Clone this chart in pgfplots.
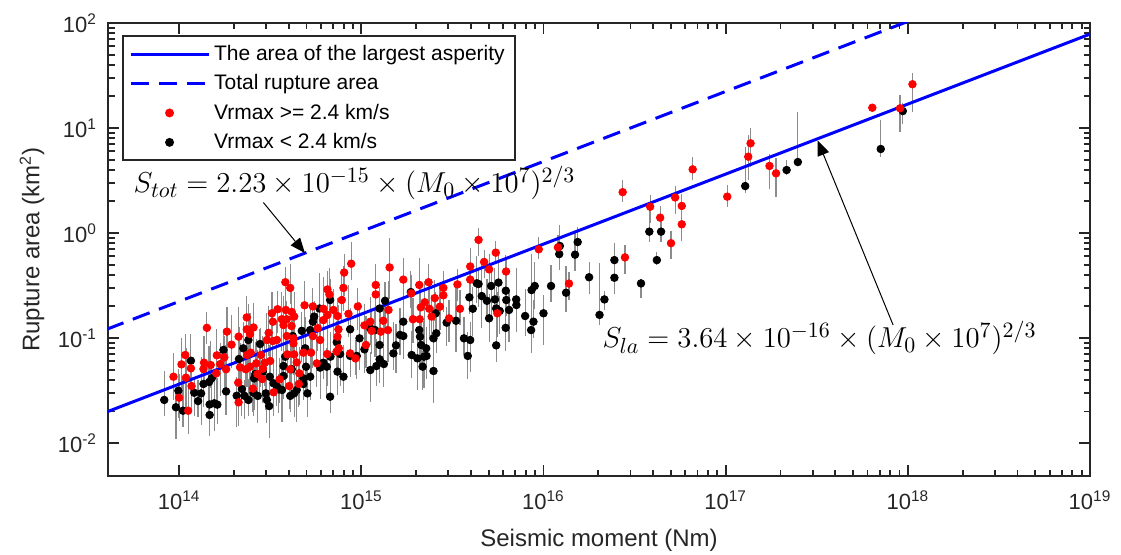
\documentclass[border=0pt]{standalone}
\usepackage{fontspec}
\setmainfont{Liberation Sans}
\usepackage{pgfplots}
\pgfplotsset{compat=1.18}
\usepackage{pgfplotstable}
\usetikzlibrary{arrows.meta}

\definecolor{axgray}{rgb}{0.15,0.15,0.15}
\definecolor{barg}{rgb}{0.55,0.55,0.55}

% Vrmax >= 2.4 km/s : M0 (Nm), area (km2), relative error up / down
\pgfplotstableread{
x y ep em
4.4e15 0.86 0.3 0.3
8.8e14 0.51 0.6 0.3
8.05e14 0.42 0.5 0.4
1.43e15 0.47 0.9 0.5
3.83e14 0.34 0.4 0.3
4.07e14 0.30 0.7 0.3
1.70e15 0.36 0.6 0.4
2.08e15 0.32 0.8 0.5
2.34e15 0.34 0.5 0.4
2.82e15 0.30 0.4 0.3
3.96e15 0.48 0.5 0.3
3.96e15 0.36 0.4 0.3
4.72e15 0.53 0.3 0.3
5.47e15 0.65 0.3 0.2
5.03e15 0.45 0.4 0.3
6.23e15 0.43 0.3 0.3
9.42e15 0.70 0.3 0.2
1.20e16 0.73 0.3 0.2
1.38e16 0.33 0.3 0.3
7.98e14 0.30 0.6 0.4
7.81e14 0.23 0.7 0.4
6.52e14 0.29 0.5 0.3
6.68e14 0.26 0.8 0.5
1.20e15 0.32 0.6 0.4
1.20e15 0.26 0.7 0.5
9.57e14 0.20 0.5 0.4
8.50e14 0.17 0.9 0.4
7.03e14 0.185 0.6 0.5
6.19e14 0.19 1.0 0.4
5.42e14 0.20 0.5 0.3
4.88e14 0.205 0.7 0.4
4.15e14 0.177 0.6 0.5
3.85e14 0.185 1.1 0.4
3.47e14 0.188 0.5 0.4
3.23e14 0.172 0.6 0.5
4.28e14 0.16 0.7 0.4
3.66e14 0.151 0.8 0.5
3.90e14 0.151 0.5 0.4
3.74e14 0.133 0.9 0.4
4.14e14 0.130 0.6 0.5
3.27e14 0.143 0.7 0.4
3.03e14 0.0957 0.8 0.5
1.42e14 0.125 0.4 0.3
1.83e14 0.115 0.7 0.4
2.35e14 0.157 0.6 0.4
2.12e14 0.103 0.9 0.5
2.35e14 0.121 0.5 0.4
2.56e14 0.126 0.7 0.4
2.45e14 0.109 0.6 0.5
3.10e14 0.112 0.8 0.4
3.27e14 0.0936 0.7 0.4
3.44e14 0.0957 0.5 0.5
3.90e14 0.1045 0.9 0.4
4.24e14 0.0993 0.6 0.4
4.24e14 0.0889 0.7 0.5
6.19e14 0.148 0.6 0.4
6.52e14 0.166 0.8 0.4
7.40e14 0.162 0.5 0.4
7.49e14 0.121 0.7 0.5
5.77e14 0.124 0.6 0.4
5.42e14 0.1045 0.8 0.5
5.94e14 0.0957 0.6 0.4
7.40e14 0.103 0.5 0.4
7.52e14 0.0798 0.7 0.4
8.68e14 0.0714 0.6 0.4
9.29e14 0.064 0.5 0.3
1.04e15 0.132 0.6 0.4
1.12e15 0.143 0.7 0.4
1.14e15 0.117 0.5 0.4
1.28e15 0.115 0.8 0.5
1.32e15 0.146 0.6 0.4
1.41e15 0.185 0.9 0.4
1.40e15 0.119 0.6 0.5
1.88e15 0.266 0.5 0.4
1.92e15 0.151 0.6 0.4
2.09e15 0.151 0.7 0.4
2.12e15 0.196 0.5 0.4
2.23e15 0.219 0.6 0.4
2.36e15 0.19 0.8 0.5
2.53e15 0.24 0.5 0.4
2.70e15 0.199 0.6 0.4
2.82e15 0.255 0.7 0.3
2.43e15 0.16 0.6 0.4
3.03e15 0.154 0.5 0.4
3.37e15 0.324 0.4 0.3
3.48e15 0.19 0.5 0.3
5.58e15 0.172 0.6 0.4
1.06e15 0.0858 0.9 0.4
7.31e14 0.0741 0.7 0.4
6.49e14 0.0704 0.6 0.5
5.70e14 0.0574 0.8 0.4
5.30e14 0.0725 0.6 0.4
4.81e14 0.0725 0.7 0.5
4.28e14 0.0698 0.9 0.4
3.93e14 0.0698 0.6 0.4
4.42e14 0.0586 0.7 0.4
4.57e14 0.0461 0.8 0.5
4.02e14 0.0349 0.6 0.4
4.54e14 0.0365 0.7 0.4
4.07e14 0.0504 0.9 0.5
3.56e14 0.0404 0.6 0.4
3.30e14 0.0304 0.7 0.4
2.81e14 0.0689 0.8 0.5
3.16e14 0.0604 0.6 0.4
2.95e14 0.0582 0.7 0.4
2.47e14 0.0725 0.9 0.4
2.36e14 0.0689 0.6 0.5
2.65e14 0.0574 0.7 0.4
2.45e14 0.0533 0.8 0.5
2.32e14 0.0504 0.6 0.4
2.16e14 0.0526 0.7 0.4
2.11e14 0.0376 0.9 0.5
2.12e14 0.0244 0.7 0.4
2.54e14 0.0330 0.6 0.4
1.61e14 0.0684 0.8 0.4
1.77e14 0.0655 0.6 0.5
1.94e14 0.0865 0.9 0.4
1.81e14 0.0504 0.7 0.4
1.68e14 0.0565 0.6 0.5
1.37e14 0.0582 0.8 0.4
1.49e14 0.0553 0.7 0.4
1.60e14 0.0461 0.6 0.5
1.36e14 0.0507 0.9 0.4
1.16e14 0.0514 0.7 0.4
1.08e14 0.0689 0.6 0.5
1.03e14 0.0561 0.8 0.4
9.31e13 0.0428 0.7 0.4
1.09e14 0.0419 0.9 0.5
1.17e14 0.0349 0.6 0.4
1.00e14 0.0270 0.7 0.4
1.12e14 0.0203 0.8 0.4
2.86e14 0.0407 0.6 0.4
2.69e14 0.0454 0.7 0.5
2.88e14 0.0511 0.6 0.4
2.72e16 2.45 0.3 0.2
2.80e16 0.586 0.3 0.3
3.85e16 1.78 0.3 0.3
4.37e16 1.40 0.3 0.3
5.28e16 2.18 0.3 0.3
5.74e16 1.81 0.3 0.3
5.74e16 1.21 0.4 0.3
5.01e16 0.80 0.3 0.3
6.59e16 4.04 0.3 0.2
1.02e17 2.22 0.3 0.2
1.37e17 7.15 0.4 0.4
1.33e17 5.33 0.6 0.4
1.74e17 4.35 0.3 0.4
1.89e17 3.70 0.4 0.4
6.38e17 15.6 0.05 0.05
9.06e17 15.4 0.35 0.4
1.06e18 26.1 0.27 0.45
}\redpts

% Vrmax < 2.4 km/s
\pgfplotstableread{
x y ep em
8.28e13 0.0257 0.9 0.3
9.6e13 0.0219 0.5 0.5
1.05e14 0.0203 1.0 0.3
9.9e13 0.0315 0.6 0.45
1.16e14 0.0608 0.8 0.35
1.21e14 0.0301 0.4 0.4
1.32e14 0.0297 1.2 0.5
1.27e14 0.0251 0.6 0.3
1.36e14 0.0365 0.7 0.4
1.47e14 0.0233 0.5 0.5
1.47e14 0.0185 1.0 0.3
1.56e14 0.0239 0.6 0.45
1.62e14 0.0232 0.8 0.35
1.51e14 0.0413 0.4 0.4
1.46e14 0.0381 1.2 0.5
1.75e14 0.0769 0.6 0.3
1.81e14 0.0310 0.7 0.4
2.07e14 0.0282 0.5 0.5
2.13e14 0.0631 1.0 0.3
2.21e14 0.0327 0.6 0.45
2.25e14 0.0798 0.8 0.35
2.28e14 0.0282 0.4 0.4
2.40e14 0.0957 1.2 0.5
2.40e14 0.0257 0.6 0.3
2.56e14 0.0301 0.7 0.4
2.58e14 0.0413 0.5 0.5
2.62e14 0.0454 1.0 0.3
2.70e14 0.0281 0.6 0.45
2.76e14 0.0428 0.8 0.35
2.78e14 0.0877 0.4 0.4
2.88e14 0.0478 1.2 0.5
2.99e14 0.0297 0.6 0.3
3.03e14 0.0257 0.7 0.4
3.12e14 0.0225 0.5 0.5
3.14e14 0.0428 1.0 0.3
3.30e14 0.0370 0.6 0.45
3.44e14 0.0349 0.8 0.35
3.52e14 0.0324 0.4 0.4
3.67e14 0.0320 1.2 0.5
3.74e14 0.0541 0.6 0.3
3.74e14 0.0435 0.7 0.4
3.83e14 0.0664 0.5 0.5
4.07e14 0.0281 1.0 0.3
4.15e14 0.0504 0.6 0.45
4.20e14 0.1045 0.8 0.35
4.28e14 0.0297 0.4 0.4
4.42e14 0.0320 1.2 0.5
4.81e14 0.0365 0.6 0.3
5.06e14 0.0297 0.7 0.4
4.71e14 0.117 0.5 0.5
4.92e14 0.0798 1.0 0.3
5.24e14 0.119 0.6 0.45
5.42e14 0.143 0.8 0.35
5.51e14 0.160 0.4 0.4
5.89e14 0.191 1.2 0.5
6.74e14 0.230 0.6 0.3
6.77e14 0.0664 0.7 0.4
6.46e14 0.0533 0.5 0.5
6.19e14 0.0582 1.0 0.3
4.97e14 0.0533 0.6 0.45
4.81e14 0.0413 0.8 0.35
5.24e14 0.0428 0.4 0.4
5.94e14 0.0522 1.2 0.5
7.33e14 0.0910 0.6 0.3
7.40e14 0.0478 0.7 0.4
7.65e14 0.0704 0.5 0.5
7.98e14 0.0428 1.0 0.3
8.68e14 0.121 0.6 0.45
8.68e14 0.0675 0.8 0.35
9.44e14 0.0675 0.4 0.4
9.77e14 0.0993 1.2 0.5
6.74e14 0.0276 0.6 0.3
1.04e15 0.078 0.7 0.4
1.12e15 0.0495 0.5 0.5
1.12e15 0.1236 1.0 0.3
1.19e15 0.119 0.6 0.45
1.21e15 0.0541 0.8 0.35
1.26e15 0.0627 0.4 0.4
1.26e15 0.0858 1.2 0.5
1.26e15 0.191 0.6 0.3
1.33e15 0.0565 0.7 0.4
1.35e15 0.226 0.5 0.5
1.50e15 0.0714 1.0 0.3
1.55e15 0.0851 0.6 0.45
1.63e15 0.107 0.8 0.35
1.70e15 0.1045 0.4 0.4
1.70e15 0.143 1.2 0.5
1.87e15 0.274 0.6 0.3
1.89e15 0.0689 0.7 0.4
2.03e15 0.064 0.5 0.5
2.08e15 0.119 1.0 0.3
2.10e15 0.103 0.6 0.45
2.13e15 0.0858 0.8 0.35
2.17e15 0.0533 0.4 0.4
2.21e15 0.0664 1.2 0.5
2.27e15 0.0798 0.6 0.3
2.28e15 0.0675 0.7 0.4
2.49e15 0.0485 0.5 0.5
2.49e15 0.0993 1.0 0.3
2.56e15 0.172 0.6 0.45
2.58e15 0.111 0.8 0.35
2.94e15 0.140 0.4 0.4
3.31e15 0.146 1.2 0.5
3.66e15 0.0993 0.6 0.3
3.84e15 0.0675 0.7 0.4
3.96e15 0.0957 0.5 0.5
3.92e15 0.244 1.0 0.3
4.09e15 0.190 0.6 0.45
4.30e15 0.332 0.8 0.35
4.40e15 0.327 0.4 0.4
4.58e15 0.251 1.2 0.5
4.89e15 0.226 0.6 0.3
5.03e15 0.154 0.7 0.4
5.16e15 0.313 0.5 0.5
5.41e15 0.233 1.0 0.3
5.50e15 0.191 0.6 0.45
5.66e15 0.337 0.8 0.35
5.75e15 0.181 0.4 0.4
6.21e15 0.282 1.2 0.5
6.25e15 0.230 0.6 0.3
6.20e15 0.125 0.7 0.4
6.47e15 0.185 0.5 0.5
7.08e15 0.233 1.0 0.3
7.10e15 0.206 0.6 0.45
7.93e15 0.162 0.8 0.35
8.55e15 0.119 0.4 0.4
8.60e15 0.286 1.2 0.5
8.81e15 0.143 0.6 0.3
8.95e15 0.313 0.7 0.4
1.00e16 0.172 0.5 0.5
1.10e16 0.313 0.6 0.3
1.23e16 0.752 0.6 0.4
1.22e16 0.630 0.5 0.3
1.33e16 0.270 0.8 0.35
1.49e16 0.622 0.6 0.3
1.54e16 0.820 0.4 0.3
1.78e16 0.379 0.4 0.3
5.50e15 0.0851 0.6 0.3
2.03e16 0.166 2.1 0.2
2.16e16 0.233 0.2 0.2
2.45e16 0.552 0.46 0.44
2.45e16 0.375 0.3 0.3
3.43e16 0.331 0.1 0.28
3.81e16 1.03 0.73 0.2
4.42e16 1.03 0.3 0.2
4.19e16 0.552 0.2 0.1
1.28e17 2.80 1.37 0.15
2.16e17 3.98 0.25 0.1
2.49e17 4.74 2.0 0.05
7.10e17 6.31 0.9 0.16
9.38e17 14.5 0.2 0.25
}\blackpts

\begin{document}
\begin{tikzpicture}
\useasboundingbox (-54pt,-39pt) rectangle (506.5pt,238pt);
\begin{axis}[
  at={(0pt,0pt)}, anchor=south west,
  scale only axis, width=491pt, height=226.5pt,
  xmode=log, ymode=log,
  xmin=4.07e13, xmax=1e19, ymin=4.85e-3, ymax=100,
  xtick={1e14,1e15,1e16,1e17,1e18,1e19},
  ytick={1e-2,1e-1,1,10,100},
  axis line style={draw=axgray, line width=1.2pt},
  every tick/.append style={draw=axgray, line width=0.9pt},
  major tick length=5.75pt, minor tick length=3.25pt,
  tick align=inside,
  /pgf/number format/assume math mode=true,
  log number format basis/.code 2 args={#1\textsuperscript{\pgfmathprintnumber{#2}}},
  tick label style={font=\fontsize{11}{13}\selectfont, text=axgray},
  xticklabel style={yshift=-4pt},
  yticklabel style={xshift=-2pt},
  xlabel={Seismic moment (Nm)},
  ylabel={Rupture area (km\textsuperscript{2})},
  label style={font=\fontsize{12}{14}\selectfont, text=axgray},
  xlabel style={at={(axis description cs:0.5,-0.141)}, anchor=center},
  ylabel style={at={(axis description cs:-0.0774,0.5)}, anchor=center},
  legend style={at={(0.0143,0.9735)}, anchor=north west, draw=axgray,
    line width=1pt, fill=white, font=\fontsize{10.5}{12.5}\selectfont,
    inner xsep=3pt, inner ysep=2.5pt, row sep=1.6pt},
  legend cell align=left,
  legend image code/.code={\draw[mark repeat=2,mark phase=2,#1]
    plot coordinates {(0pt,0pt) (19.5pt,0pt) (39pt,0pt)};},
]
% error bars first, under every dot (no marks in these two)
\addplot[draw=none, mark=none, forget plot,
  error bars/.cd, y dir=both, y explicit relative, error mark=none,
  error bar style={draw=barg, line width=0.6pt}]
  table[x=x, y=y, y error plus=ep, y error minus=em] {\blackpts};
\addplot[draw=none, mark=none, forget plot,
  error bars/.cd, y dir=both, y explicit relative, error mark=none,
  error bar style={draw=barg, line width=0.6pt}]
  table[x=x, y=y, y error plus=ep, y error minus=em] {\redpts};
\addplot[black, only marks, mark=*, mark size=1.9pt, forget plot,
  mark options={draw=none, fill=black}]
  table[x=x, y=y] {\blackpts};
\addplot[red, only marks, mark=*, mark size=1.9pt, forget plot,
  mark options={draw=none, fill=red}]
  table[x=x, y=y] {\redpts};
% scaling laws
\addplot[blue, line width=1.5pt, forget plot] coordinates {(4e13,0.019755) (1e19,78.43)};
\addplot[blue, line width=1.5pt, dash pattern=on 9pt off 5pt, forget plot]
  coordinates {(4e13,0.12105) (1e19,480.4)};

\addlegendimage{blue, line width=1.5pt}
\addlegendentry{The area of the largest asperity}
\addlegendimage{blue, line width=1.5pt, dash pattern=on 9pt off 5pt}
\addlegendentry{Total rupture area}
\addlegendimage{red, only marks, mark=*, mark size=1.7pt, mark options={draw=none, fill=red}}
\addlegendentry{Vrmax >= 2.4 km/s}
\addlegendimage{black, only marks, mark=*, mark size=1.7pt, mark options={draw=none, fill=black}}
\addlegendentry{Vrmax < 2.4 km/s}

\node[anchor=west, inner sep=0pt, font=\fontsize{15}{17}\selectfont] at (axis cs:5.6e13,3.0)
  {$S_{tot}=2.23\times10^{-15}\times(M_0\times10^7)^{2/3}$};
\node[anchor=west, inner sep=0pt, font=\fontsize{15}{17}\selectfont] at (axis cs:2.1e16,0.1)
  {$S_{la}=3.64\times10^{-16}\times(M_0\times10^7)^{2/3}$};
\draw[-{Triangle[length=7.5pt,width=6pt]}, black, line width=0.5pt]
  (axis cs:2.9e14,1.95) -- (axis cs:4.9e14,0.645);
\draw[-{Triangle[length=7.5pt,width=6pt]}, black, line width=0.5pt]
  (axis cs:8.3e17,0.133) -- (axis cs:3.2e17,7.6);
\end{axis}
\end{tikzpicture}
\end{document}
